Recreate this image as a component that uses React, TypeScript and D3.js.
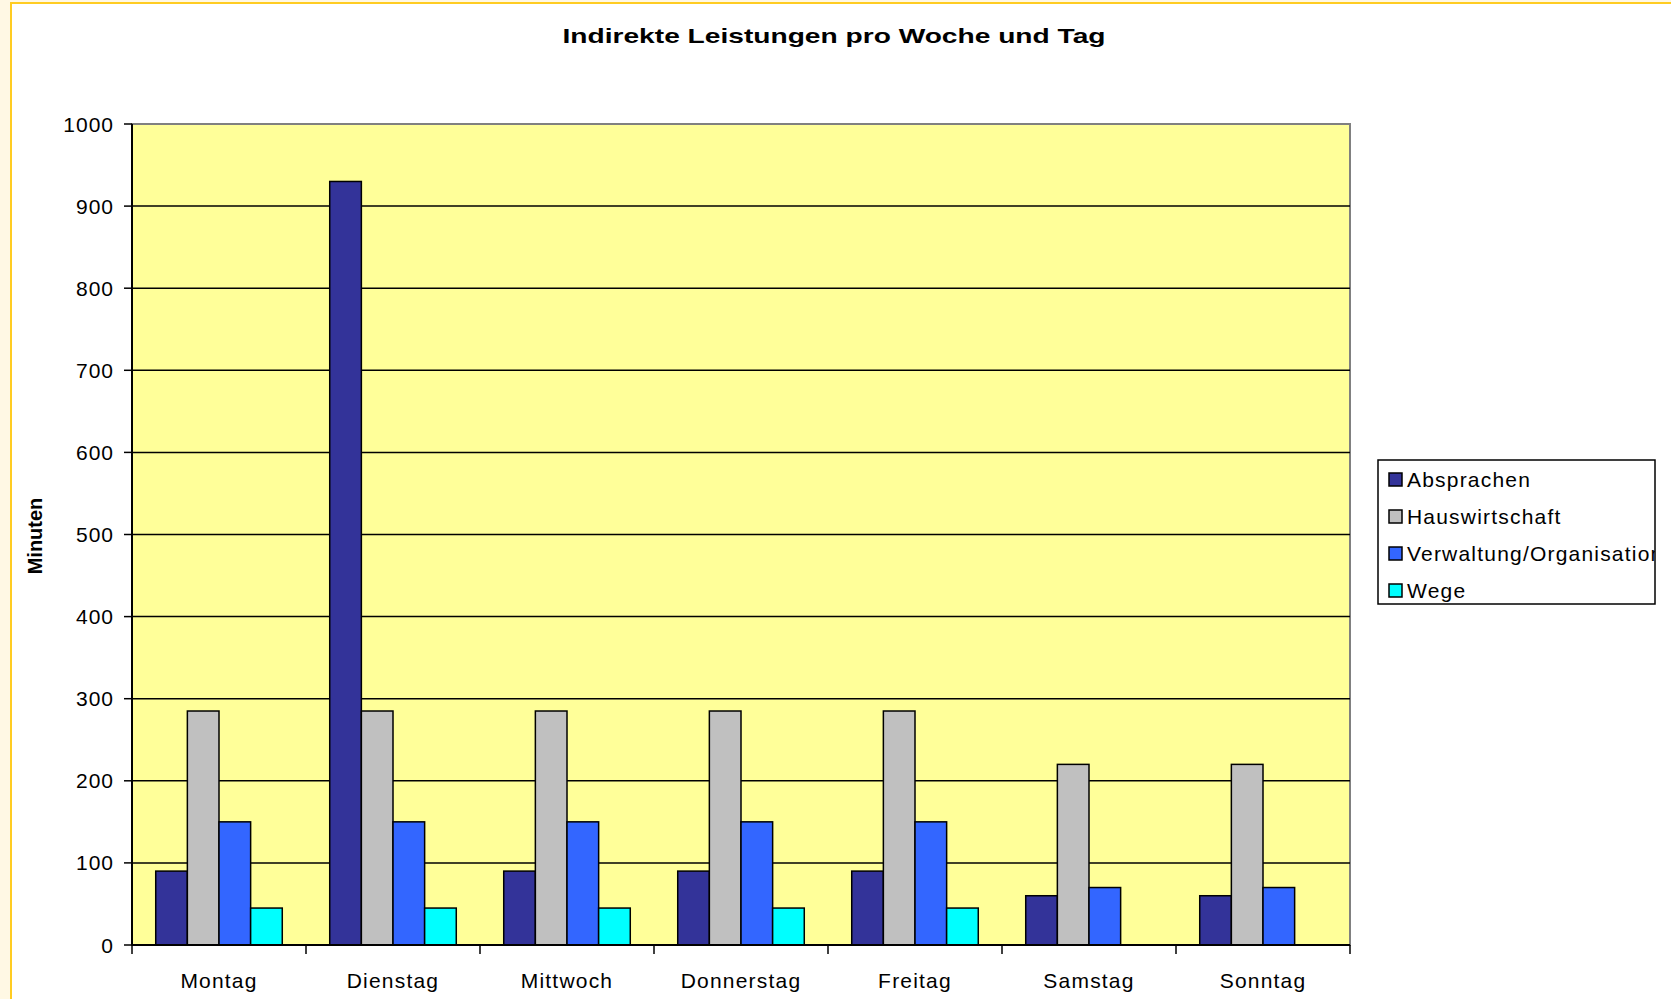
import React from 'react';
import * as d3 from 'd3';

const days = ['Montag', 'Dienstag', 'Mittwoch', 'Donnerstag', 'Freitag', 'Samstag', 'Sonntag'];
const seriesNames = ['Absprachen', 'Hauswirtschaft', 'Verwaltung/Organisation', 'Wege'];
const absprachen = [90, 930, 90, 90, 90, 60, 60];
const hauswirtschaft = [285, 285, 285, 285, 285, 220, 220];
const verwaltung = [150, 150, 150, 150, 150, 70, 70];
const wege = [45, 45, 45, 45, 45, 0, 0];
const yTicks = [0, 100, 200, 300, 400, 500, 600, 700, 800, 900, 1000];
const colors = ['#333399', '#C0C0C0', '#3366FF', '#00FFFF'];

const seriesValues = [absprachen, hauswirtschaft, verwaltung, wege];

const W = 1671;
const H = 999;
const plot = { left: 132, right: 1350, top: 124, bottom: 945 };
const font = '"Liberation Sans", Arial, sans-serif';

const App: React.FC = () => {
  const x0 = d3.scaleBand<string>().domain(days).range([plot.left, plot.right]).padding(0);
  const step = x0.bandwidth();
  const gap = (step * 1.5) / 5.5;
  const x1 = d3.scaleBand<string>().domain(seriesNames).range([gap / 2, step - gap / 2]).padding(0);
  const y = d3.scaleLinear().domain([0, 1000]).range([plot.bottom, plot.top]);

  const legend = { x: 1378, y: 460, w: 277, h: 144 };

  return (
    <svg width={W} height={H} style={{ position: 'absolute', left: 0, top: 0, display: 'block' }}>
      <defs>
        <clipPath id="legclip">
          <rect x={legend.x} y={legend.y} width={legend.w} height={legend.h} />
        </clipPath>
      </defs>
      <rect x={0} y={0} width={W} height={H} fill="#FFF8E4" />
      <rect x={11} y={3} width={W} height={H} fill="#FFFFFF" stroke="#FFCC22" strokeWidth={2} />

      <text x={834} y={43} textAnchor="middle" fontFamily={font} fontWeight="bold" fontSize={21}
        textLength={543} lengthAdjust="spacingAndGlyphs">
        Indirekte Leistungen pro Woche und Tag
      </text>

      <rect x={plot.left} y={plot.top} width={plot.right - plot.left} height={plot.bottom - plot.top}
        fill="#FFFF99" stroke="#808080" strokeWidth={2} />

      {yTicks.filter(t => t > 0 && t < 1000).map(t => (
        <line key={'g' + t} x1={plot.left} x2={plot.right} y1={y(t)} y2={y(t)} stroke="#000" strokeWidth={1.5} />
      ))}

      {seriesValues.map((vals, si) => (
        <g key={seriesNames[si]}>
          {days.map((d, di) => vals[di] > 0 ? (
            <rect key={d}
              x={(x0(d) || 0) + (x1(seriesNames[si]) || 0)}
              y={y(vals[di])}
              width={x1.bandwidth()}
              height={y(0) - y(vals[di])}
              fill={colors[si]} stroke="#000" strokeWidth={1.5} />
          ) : null)}
        </g>
      ))}

      <line x1={plot.left} x2={plot.left} y1={plot.top} y2={plot.bottom} stroke="#000" strokeWidth={2} />
      <line x1={plot.left} x2={plot.right} y1={plot.bottom} y2={plot.bottom} stroke="#000" strokeWidth={2} />

      {yTicks.map(t => (
        <g key={'y' + t}>
          <line x1={plot.left - 8} x2={plot.left} y1={y(t)} y2={y(t)} stroke="#000" strokeWidth={1.5} />
          <text x={114} y={y(t)} dy="0.36em" textAnchor="end" fontFamily={font} fontSize={21}
            letterSpacing={1} fill="#000">{t}</text>
        </g>
      ))}

      {[...days.map(d => x0(d) || 0), plot.right].map((v, i) => (
        <line key={'xt' + i} x1={v} x2={v} y1={plot.bottom} y2={plot.bottom + 9} stroke="#000" strokeWidth={1.5} />
      ))}
      {days.map(d => (
        <text key={'xl' + d} x={(x0(d) || 0) + step / 2} y={988} textAnchor="middle" fontFamily={font} fontSize={21}
          letterSpacing={1.2} fill="#000">{d}</text>
      ))}

      <text transform="translate(42,536) rotate(-90)" textAnchor="middle" fontFamily={font} fontWeight="bold" fontSize={20}>Minuten</text>

      <g clipPath="url(#legclip)">
        <rect x={legend.x} y={legend.y} width={legend.w} height={legend.h} fill="#FFFFFF" />
        {seriesNames.map((s, i) => (
          <g key={'l' + s}>
            <rect x={legend.x + 11} y={legend.y + 13 + i * 37} width={13} height={13} fill={colors[i]} stroke="#000" strokeWidth={1.5} />
            <text x={legend.x + 29} y={legend.y + 19 + i * 37} dy="0.36em" fontFamily={font} fontSize={21}
              letterSpacing={1.2} fill="#000">{s}</text>
          </g>
        ))}
      </g>
      <rect x={legend.x} y={legend.y} width={legend.w} height={legend.h} fill="none" stroke="#000" strokeWidth={1.5} />
    </svg>
  );
};

export default App;
